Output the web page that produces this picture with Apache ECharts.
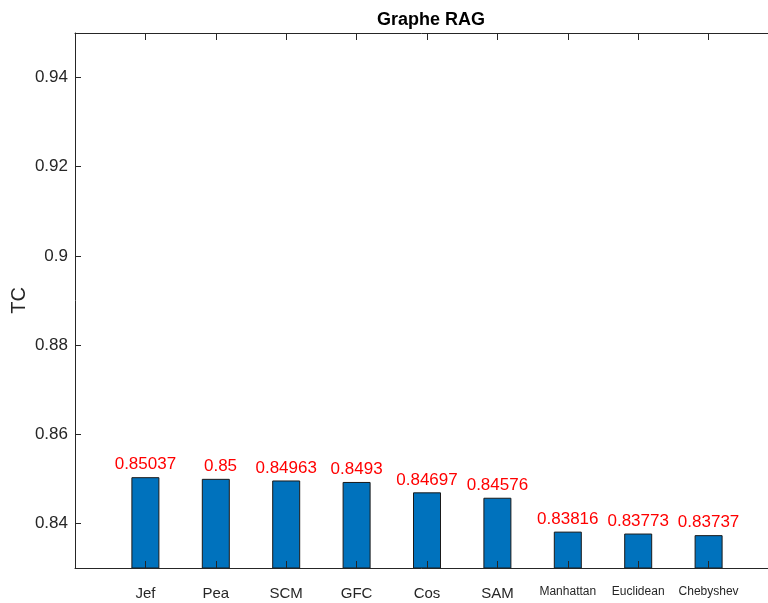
<!DOCTYPE html>
<html>
<head>
<meta charset="utf-8">
<script src="https://cdn.jsdelivr.net/npm/echarts@6/dist/echarts.min.js"></script>
<style>html,body{margin:0;padding:0;background:#fff}#c{width:768px;height:603px}</style>
</head>
<body>
<div id="c"></div>
<script>
const categories = ['Jef','Pea','SCM','GFC','Cos','SAM','Manhattan','Euclidean','Chebyshev'];
const values = [0.85037, 0.85, 0.84963, 0.8493, 0.84697, 0.84576, 0.83816, 0.83773, 0.83737];
const valueLabels = ['0.85037','  0.85','0.84963','0.8493','0.84697','0.84576','0.83816','0.83773','0.83737'];
const yTicks = [0.84, 0.86, 0.88, 0.9, 0.92, 0.94];
const xPositions = [1,2,3,4,5,6,7,8,9];

const FONT = '"Liberation Sans", Arial, Helvetica, sans-serif';
const AX = '#262626';
const chart = echarts.init(document.getElementById('c'), null, {renderer:'canvas'});
const xMax = (768 - 75) / 70.4;
const longNames = new Set(['Manhattan','Euclidean','Chebyshev']);

chart.setOption({
  animation: false,
  title: {
    text: 'Graphe RAG', left: 372, top: 6,
    textStyle: {fontFamily: FONT, fontSize: 18, fontWeight: 'bold', color: '#000'}
  },
  grid: {left: 75, right: 0, top: 33, bottom: 35, containLabel: false, outerBoundsMode: 'none'},
  xAxis: [{
    type: 'value', min: 0, max: xMax, position: 'bottom', z: 5,
    axisLine: {show: true, lineStyle: {color: AX, width: 1}},
    axisTick: {show: true, inside: true, length: 7, customValues: xPositions, lineStyle: {color: AX}},
    axisLabel: {
      customValues: xPositions, margin: 18, color: AX,
      formatter: function (v) {
        const n = categories[Math.round(v) - 1] || '';
        return longNames.has(n) ? '{s|' + n + '}' : '{b|' + n + '}';
      },
      rich: {
        b: {fontFamily: FONT, fontSize: 15, color: AX},
        s: {fontFamily: FONT, fontSize: 12, color: AX}
      }
    },
    splitLine: {show: false}
  }, {
    type: 'value', min: 0, max: xMax, position: 'top', z: 5,
    axisLine: {show: true, lineStyle: {color: AX, width: 1}},
    axisTick: {show: true, inside: true, length: 7, customValues: xPositions, lineStyle: {color: AX}},
    axisLabel: {show: false},
    splitLine: {show: false}
  }],
  yAxis: {
    type: 'value', min: 0.83, max: 0.95, z: 5,
    name: 'TC', nameLocation: 'middle', nameGap: 46, nameRotate: 90, nameMoveOverlap: false,
    nameTextStyle: {fontFamily: FONT, fontSize: 20, color: AX},
    axisLine: {show: true, lineStyle: {color: AX, width: 1}},
    axisTick: {show: true, inside: true, length: 6, customValues: yTicks, lineStyle: {color: AX}},
    axisLabel: {
      customValues: yTicks, margin: 7, color: AX, fontFamily: FONT, fontSize: 17,
      formatter: function (v) { return String(parseFloat(v.toFixed(2))); }
    },
    splitLine: {show: false}
  },
  series: [{
    type: 'bar', xAxisIndex: 0, barWidth: 28,
    data: values.map((v, i) => [xPositions[i], v]),
    itemStyle: {color: '#0072BD', borderColor: '#1a1a1a', borderWidth: 1},
    label: {
      show: true, position: 'top', distance: 4, color: '#FF0000',
      fontFamily: FONT, fontSize: 17,
      formatter: function (p) { return valueLabels[p.dataIndex]; }
    }
  }]
});
</script>
</body>
</html>
